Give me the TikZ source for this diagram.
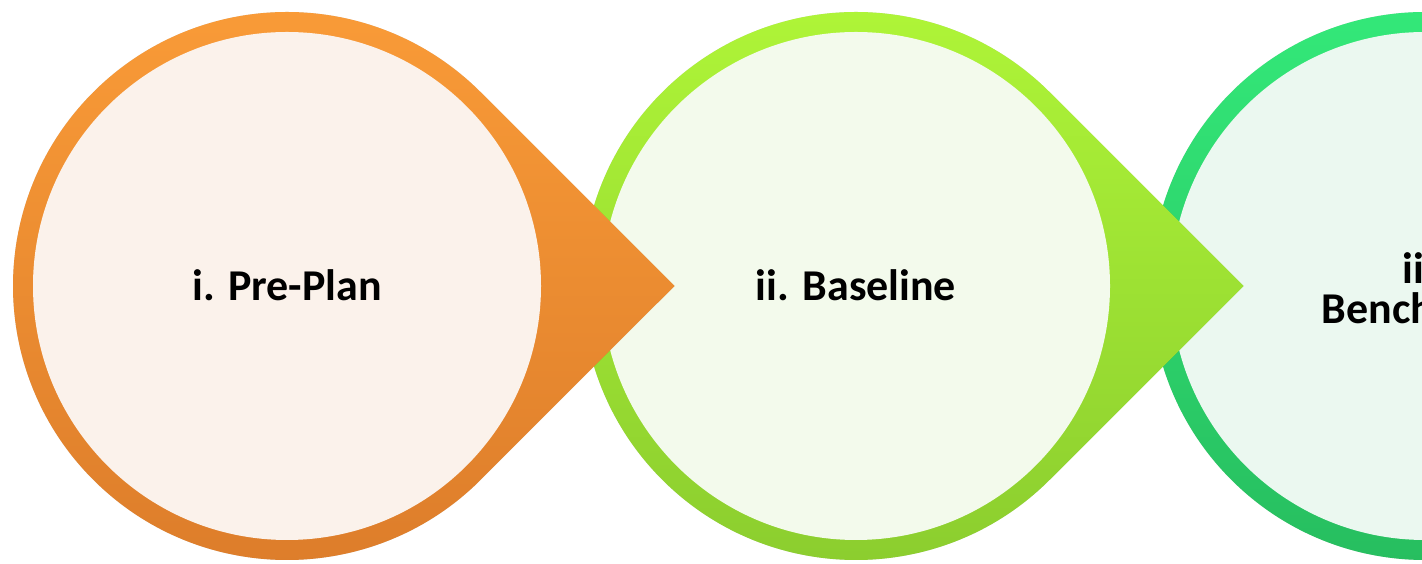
\documentclass[tikz,border=0pt]{standalone}
\usepackage{fontspec}
\setmainfont{Carlito}
\begin{document}
\begin{tikzpicture}[x=1pt,y=1pt,
  lbl/.style={font=\bfseries\fontsize{44}{40}\selectfont, text=black, inner sep=0pt, anchor=base},
  ringA/.style={top color={rgb,255:red,250;green,156;blue,56}, bottom color={rgb,255:red,220;green,124;blue,42}, shading angle=0},
  ringB/.style={top color={rgb,255:red,176;green,246;blue,56}, bottom color={rgb,255:red,138;green,204;blue,46}},
  ringC/.style={top color={rgb,255:red,52;green,234;blue,122}, bottom color={rgb,255:red,38;green,188;blue,94}},
  innA/.style={fill={rgb,255:red,251;green,242;blue,235}},
  innB/.style={fill={rgb,255:red,243;green,250;blue,236}},
  innC/.style={fill={rgb,255:red,235;green,248;blue,240}},
  shadowstyle/.style={fill=black, fill opacity=0.035}
]
\def\R{274}
\def\Ri{254}
\def\T{387.5}
\useasboundingbox (0,0) rectangle (1422,564);
\clip (0,0) rectangle (1422,564);
\fill[white] (0,0) rectangle (1422,564);

% centres
\coordinate (c3) at (1425,278);
\coordinate (c2) at (856,278);
\coordinate (c1) at (287,278);

% teardrop macro
\newcommand{\teardrop}[1]{([shift={(\T,0)}]#1) -- ([shift={(45:\R)}]#1) arc[start angle=45, end angle=315, radius=\R] -- cycle}

% shape 3
\foreach \k in {1,2,3,4}{\path[shadowstyle] [yshift=-\k pt] \teardrop{c3};}
\path[ringC] \teardrop{c3};
\path[innC] (c3) circle[radius=\Ri];
\node[lbl, anchor=base] (t3a) at (1425,280) {iii.};
\node[lbl, anchor=base] (t3b) at (1425,240) {Benchmark};

% shape 2
\foreach \k in {1,2,3,4}{\path[shadowstyle] [yshift=-\k pt] \teardrop{c2};}
\path[ringB] \teardrop{c2};
\path[innB] (c2) circle[radius=\Ri];
\node[lbl] (t2) at (856,263) {ii. Baseline};

% shape 1
\foreach \k in {1,2,3,4}{\path[shadowstyle] [yshift=-\k pt] \teardrop{c1};}
\path[ringA] \teardrop{c1};
\path[innA] (c1) circle[radius=\Ri];
\node[lbl] (t1) at (287,263) {i. Pre-Plan};
\end{tikzpicture}
\end{document}
